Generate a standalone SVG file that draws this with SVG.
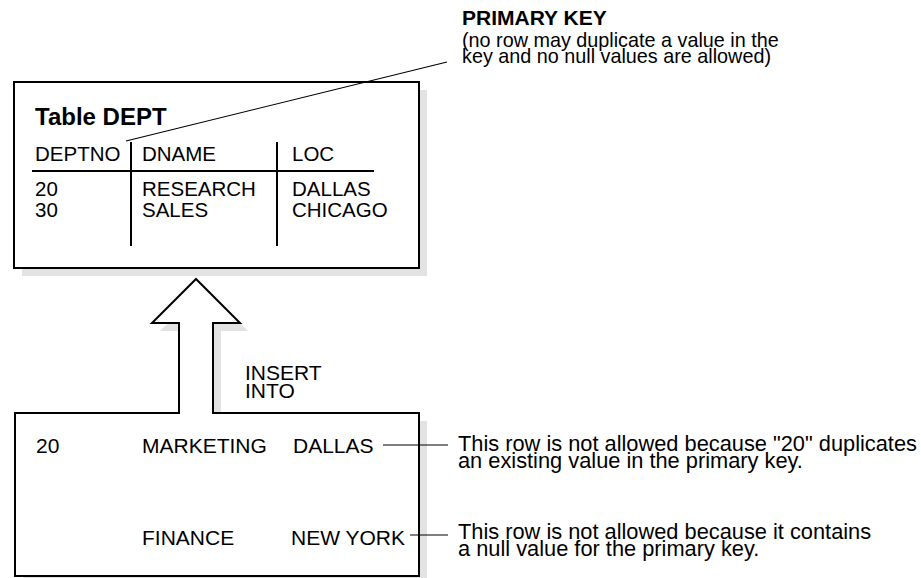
<svg xmlns="http://www.w3.org/2000/svg" width="921" height="578" viewBox="0 0 921 578">
<style>
text{font-family:"Liberation Sans",Arial,sans-serif;font-size:20.5px;fill:#000}
.b{font-weight:bold}
.t21{font-size:21px}
.pk{font-size:19.8px}
.note{font-size:21.8px}
.shadow{fill:#e3e3e3;stroke:none}
.box{fill:#fff;stroke:#000;stroke-width:2}
.rule{stroke:#000;stroke-width:2;fill:none}
.lead{stroke:#000;stroke-width:1.2;fill:none}
</style>
<rect width="921" height="578" fill="#fff"/>
<g id="table-dept">
<rect class="shadow" x="22" y="90" width="405" height="186"/>
<rect class="box" x="14" y="82" width="405" height="186"/>
<text class="b" x="35" y="125" style="font-size:24px">Table DEPT</text>
<text x="35" y="161">DEPTNO</text>
<text x="142" y="161">DNAME</text>
<text x="292" y="161">LOC</text>
<line class="rule" x1="32" y1="171" x2="374" y2="171"/>
<line class="rule" x1="131" y1="142" x2="131" y2="246"/>
<line class="rule" x1="277" y1="142" x2="277" y2="246"/>
<text x="35" y="196">20</text>
<text x="35" y="217">30</text>
<text x="142" y="196">RESEARCH</text>
<text x="142" y="217">SALES</text>
<text x="292" y="196">DALLAS</text>
<text x="292" y="217">CHICAGO</text>
</g>
<g id="primary-key-note">
<text class="b t21" x="462" y="25">PRIMARY KEY</text>
<text class="pk" x="462" y="47">(no row may duplicate a value in the</text>
<text class="pk" x="462" y="63">key and no null values are allowed)</text>
</g>
<g id="insert-rows">
<path class="shadow" d="M23,421 H187 V331 H160 L204,287 L248,331 H221 V421 H427 V584 H23 Z"/>
<path class="box" d="M15,413 H179 V323 H152 L196,279 L240,323 H213 V413 H419 V576 H15 Z"/>
<text class="t21" x="245" y="380">INSERT</text>
<text class="t21" x="245" y="398">INTO</text>
<text class="t21" x="36" y="453">20</text>
<text class="t21" x="142" y="453">MARKETING</text>
<text class="t21" x="293" y="453">DALLAS</text>
<text class="t21" x="142" y="545">FINANCE</text>
<text class="t21" x="291" y="545">NEW YORK</text>
</g>
<g id="note-duplicate">
<text class="note" x="458" y="451">This row is not allowed because "20" duplicates</text>
<text class="note" x="458" y="468">an existing value in the primary key.</text>
</g>
<g id="note-null">
<text class="note" x="458" y="539">This row is not allowed because it contains</text>
<text class="note" x="458" y="556">a null value for the primary key.</text>
</g>
<g id="connectors">
<line class="lead" x1="126" y1="141" x2="447" y2="62"/>
<line class="lead" x1="383" y1="445" x2="448" y2="445"/>
<line class="lead" x1="410" y1="535" x2="448" y2="535"/>
</g>
</svg>
